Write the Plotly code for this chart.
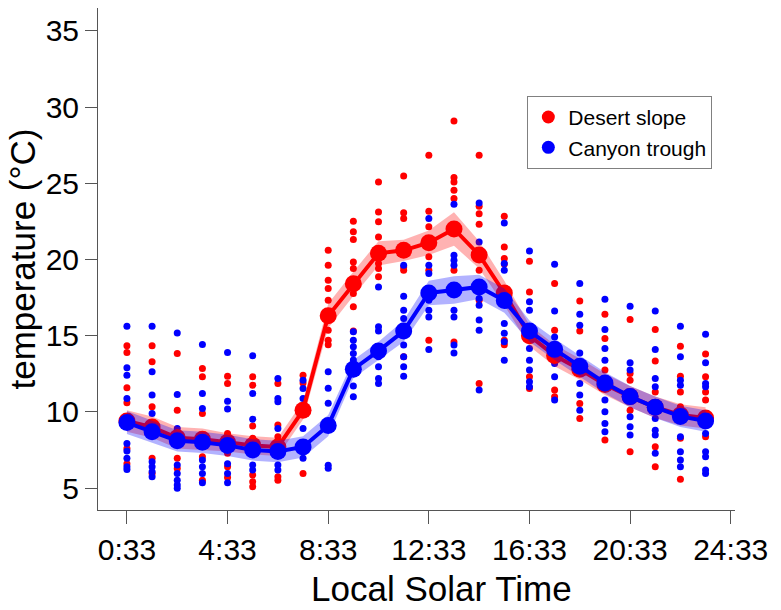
import plotly.graph_objects as go

# ---- data ----
hours = list(range(24))  # solar hour index; times are hour + 0:33
tick_labels = ["0:33", "4:33", "8:33", "12:33", "16:33", "20:33", "24:33"]
tick_hours = [0, 4, 8, 12, 16, 20, 24]

desert_points = [
    [14.33, 13.89, 11.58, 10.6, 9.57, 7.6, 6.6],
    [14.33, 13.28, 10.33, 9.3, 6.95, 5.96],
    [13.83, 10.11, 6.95, 6.29],
    [12.85, 12.3, 9.9, 7.05, 5.52],
    [12.34, 11.86, 8.58, 7.28, 6.4, 5.7],
    [12.3, 11.75, 9.07, 8.26, 5.85, 5.41, 5.09],
    [11.86, 9.13, 8.36, 5.74, 5.52],
    [12.41, 11.9, 5.96],
    [20.6, 19.62, 18.64, 18.09, 17.33, 15.36, 14.7, 14.4],
    [22.51, 21.81, 21.31, 19.84, 19.4, 17.76, 16.89, 15.3],
    [25.09, 23.12, 22.47, 21.48, 19.73, 19.4, 18.86],
    [25.48, 23.06, 22.68, 19.51, 19.3, 13.61],
    [26.84, 23.16, 22.14, 20.17, 19.3, 14.7],
    [29.08, 25.37, 25.09, 24.54, 24.0, 19.3, 14.59],
    [26.84, 23.49, 23.0, 22.31, 19.3, 17.33, 11.86],
    [22.84, 20.82, 20.06, 19.7, 14.7, 14.4],
    [19.89, 17.87, 14.7, 12.3, 11.54],
    [18.42, 15.36, 13.61, 11.43, 10.99],
    [17.28, 15.31, 12.74, 10.55, 9.57],
    [16.41, 14.82, 12.74, 8.15],
    [16.06, 12.52, 12.08, 10.11, 7.38],
    [15.4, 13.33, 11.31, 7.71, 6.4],
    [14.31, 12.34, 11.31, 10.33, 8.26, 5.57],
    [13.79, 12.3, 11.31, 10.77, 8.36],
]

canyon_points = [
    [15.62, 12.89, 12.41, 10.88, 7.93, 7.43, 6.95, 6.40, 6.22],
    [15.62, 12.63, 11.1, 9.9, 6.72, 6.40, 6.07, 5.74],
    [15.18, 11.14, 8.91, 6.51, 5.96, 5.52, 5.2, 4.98],
    [14.42, 11.2, 10.22, 6.84, 6.4, 5.96, 5.35],
    [13.89, 10.7, 10.18, 6.6, 5.96, 5.35],
    [13.68, 11.2, 9.52, 6.51, 6.18],
    [12.19, 10.88, 10.66, 8.91, 6.51, 6.18],
    [12.08, 11.54, 10.88, 8.91, 6.95],
    [12.63, 11.55, 10.57, 6.5, 6.3],
    [15.25, 14.7, 14.27, 13.83, 13.4, 11.69, 10.99],
    [18.2, 15.58, 15.3, 13.61, 12.96, 12.19, 11.86],
    [19.62, 17.59, 16.67, 16.12, 14.38, 13.61, 12.96, 12.34],
    [22.68, 19.62, 19.08, 17.33, 16.67, 16.23, 14.09],
    [23.62, 20.28, 19.95, 19.62, 16.67, 16.23, 14.38, 13.87],
    [23.7, 21.15, 17.44, 17.0, 16.02, 15.36, 11.43],
    [22.4, 19.73, 19.3, 15.8, 15.15, 14.6, 13.39],
    [20.56, 17.22, 16.67, 14.16, 13.39, 12.74, 11.97, 11.64],
    [19.69, 16.61, 14.92, 13.17, 12.3, 10.77],
    [18.42, 16.41, 15.69, 13.87, 11.86, 11.1, 10.11],
    [17.39, 15.4, 14.16, 13.39, 10.77, 10.0, 9.24, 8.69],
    [16.93, 13.22, 12.74, 9.68, 9.02, 8.48],
    [16.61, 14.09, 12.19, 11.64, 9.57, 8.8, 8.48, 7.28],
    [15.62, 13.61, 12.08, 11.75, 8.36, 7.38, 6.84, 6.4],
    [15.1, 13.22, 11.86, 11.64, 8.58, 7.38, 7.05, 6.18, 5.96],
]

desert_mean = [9.4, 9.0, 8.3, 8.2, 8.0, 7.8, 7.7, 10.1, 16.3, 18.4, 20.4, 20.6,
               21.1, 22.0, 20.3, 17.8, 15.0, 13.7, 12.8, 11.8, 11.0, 10.3, 9.8, 9.6]
canyon_mean = [9.3, 8.7, 8.1, 8.0, 7.8, 7.5, 7.4, 7.7, 9.1, 12.8, 14.0, 15.3,
               17.8, 18.0, 18.2, 17.3, 15.3, 14.1, 13.0, 11.9, 11.0, 10.3, 9.7, 9.4]
desert_se = [0.7, 0.7, 0.7, 0.7, 0.6, 0.6, 0.6, 0.6, 0.8, 0.8, 0.8, 0.7,
             0.8, 1.1, 0.9, 0.8, 0.7, 0.7, 0.7, 0.7, 0.7, 0.7, 0.7, 0.7]
canyon_se = [0.75, 0.75, 0.7, 0.7, 0.7, 0.7, 0.7, 0.7, 0.7, 0.6, 0.6, 0.7,
             0.8, 0.9, 0.8, 0.8, 0.7, 0.7, 0.7, 0.7, 0.7, 0.7, 0.7, 0.7]

OFFSET = 33 / 60.0
RED = "#FF0000"
BLUE = "#0000FF"


def tx(h):
    return h + OFFSET


def flat(points):
    xs, ys = [], []
    for h, vals in zip(hours, points):
        for v in vals:
            xs.append(tx(h))
            ys.append(v)
    return xs, ys


fig = go.Figure()

for pts, col in [(desert_points, RED), (canyon_points, BLUE)]:
    xs, ys = flat(pts)
    fig.add_trace(go.Scatter(x=xs, y=ys, mode="markers",
                             marker=dict(color=col, size=7, line=dict(width=0)),
                             showlegend=False, hoverinfo="y"))


def ribbon(mean, se, col_rgba, col):
    xs = [tx(h) for h in hours]
    up = [m + s for m, s in zip(mean, se)]
    lo = [m - s for m, s in zip(mean, se)]
    fig.add_trace(go.Scatter(x=xs + xs[::-1], y=up + lo[::-1], fill="toself",
                             fillcolor=col_rgba, line=dict(width=0),
                             mode="lines", showlegend=False, hoverinfo="skip"))
    fig.add_trace(go.Scatter(x=xs, y=mean, mode="lines+markers",
                             line=dict(color=col, width=4),
                             marker=dict(color=col, size=17),
                             showlegend=False))


ribbon(desert_mean, desert_se, "rgba(255,0,0,0.3)", RED)
ribbon(canyon_mean, canyon_se, "rgba(0,0,255,0.3)", BLUE)

# legend entries
for name, col in [("Desert slope", RED), ("Canyon trough", BLUE)]:
    fig.add_trace(go.Scatter(x=[None], y=[None], mode="markers", name=name,
                             marker=dict(color=col, size=13)))

font_family = "Liberation Sans, Arial, sans-serif"
fig.update_layout(
    width=781, height=610,
    margin=dict(l=98, r=46, t=8, b=100),
    paper_bgcolor="white", plot_bgcolor="white",
    font=dict(family=font_family, color="black"),
    legend=dict(x=0.674, y=0.825, xanchor="left", yanchor="top",
                bordercolor="#808080", borderwidth=1, bgcolor="white",
                font=dict(size=21), tracegroupgap=0, itemwidth=30),
    xaxis=dict(range=[-0.6, 24.72], tickmode="array",
               tickvals=[tx(h) for h in tick_hours], ticktext=tick_labels,
               showgrid=False, zeroline=False, showline=True, linecolor="#555",
               linewidth=1, ticks="outside", ticklen=13, tickcolor="#555",
               tickfont=dict(size=30), automargin=False),
    yaxis=dict(range=[3.56, 36.5], tickvals=[5, 10, 15, 20, 25, 30, 35],
               showgrid=False, zeroline=False, showline=True, linecolor="#555",
               linewidth=1, ticks="outside", ticklen=12, tickcolor="#555",
               tickfont=dict(size=30), automargin=False),
    annotations=[
        dict(text="Local Solar Time", xref="paper", yref="paper",
             x=0.54, y=-0.157, xanchor="center", yanchor="middle",
             showarrow=False, font=dict(size=35)),
        dict(text="temperature (°C)", xref="paper", yref="paper",
             x=-0.12, y=0.5, xanchor="center", yanchor="middle",
             textangle=-90, showarrow=False, font=dict(size=35)),
    ],
)

fig.write_html("out.html")
